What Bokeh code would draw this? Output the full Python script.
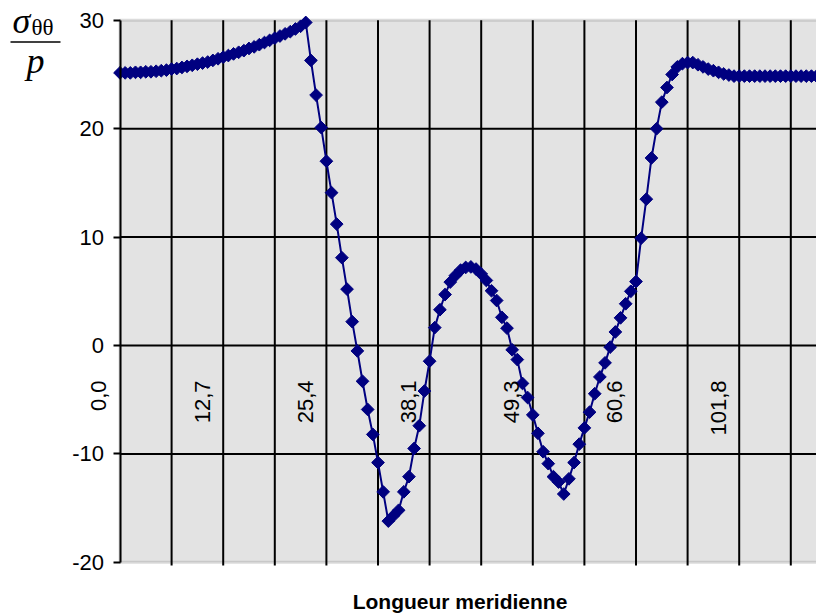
from math import pi
from bokeh.plotting import figure
from bokeh.models import (Range1d, FixedTicker, LinearAxis, Label,
                          BoxAnnotation, Grid)
from bokeh.embed import file_html
from bokeh.resources import INLINE

# ---------------- data ----------------
# sigma_theta_theta / p at each point along the meridian (category index = position in list)
sigma_over_p = [
    25.15, 25.15, 25.15, 25.2, 25.2, 25.25, 25.25, 25.3, 25.35, 25.4,
    25.5, 25.55, 25.65, 25.75, 25.85, 25.95, 26.05, 26.15, 26.3, 26.45,
    26.6, 26.75, 26.9, 27.05, 27.2, 27.4, 27.55, 27.75, 27.95, 28.15,
    28.35, 28.55, 28.75, 28.95, 29.2, 29.45, 29.8, 26.3, 23.1, 20.1,
    17.0, 14.1, 11.2, 8.1, 5.2, 2.2, -0.5, -3.3, -5.9, -8.2,
    -10.8, -13.5, -16.2, -15.7, -15.2, -13.5, -12.1, -9.5, -7.4, -4.2,
    -1.45, 1.65, 3.3, 4.7, 5.85, 6.45, 6.95, 7.2, 7.25, 7.05,
    6.6, 6.0, 5.05, 4.15, 2.6, 1.6, -0.4, -1.3, -3.5, -4.8,
    -6.4, -8.1, -9.8, -10.9, -12.1, -12.6, -13.7, -12.3, -10.8, -9.1,
    -7.6, -6.15, -4.45, -2.9, -1.6, -0.15, 1.25, 2.55, 3.85, 5.0,
    5.9, 9.9, 13.5, 17.3, 20.0, 22.45, 23.8, 25.0, 25.7, 26.0,
    26.1, 26.1, 25.9, 25.7, 25.5, 25.35, 25.2, 25.05, 24.95, 24.85,
    24.85, 24.85, 24.85, 24.85, 24.85, 24.85, 24.85, 24.85, 24.85, 24.85,
    24.85, 24.85, 24.85, 24.85, 24.85, 24.85,
]
point_index = list(range(len(sigma_over_p)))

x_tick_labels = ["0,0", "12,7", "25,4", "38,1", "49,3", "60,6", "101,8"]
x_tick_index = [0, 20, 40, 60, 80, 100, 120]
x_grid_index = [10, 20, 30, 40, 50, 60, 70, 80, 90, 100, 110, 120, 130]
y_ticks = [-20, -10, 0, 10, 20, 30]
y_tick_labels = ["-20", "-10", "0", "10", "20", "30"]
y_grid = [-10, 0, 10, 20]
y_min, y_max = -20, 30

# ---------------- geometry (page pixels) ----------------
W, H = 816, 615
X0_PAGE = 119.5     # page x of category 0
PX_CAT = 5.16       # pixels per category
Y0_PAGE = 345.0     # page y of value 0
PX_UNIT = 10.84     # pixels per unit of sigma/p
LABEL_SHIFT = 4.07  # category labels sit ~21 px left of their category


def dx(page_x):
    return (page_x - X0_PAGE) / PX_CAT


def dy(page_y):
    return (Y0_PAGE - page_y) / PX_UNIT


def baseline_y(page_baseline, font_px):
    # compensate the renderer's placement of alphabetic baselines
    return dy(page_baseline - 0.315 * font_px)


XR0, XR1 = dx(0), dx(W)
YR0, YR1 = dy(H), dy(0)

navy = "#000080"

p = figure(width=W, height=H, output_backend="svg", toolbar_location=None,
           x_range=Range1d(XR0, XR1), y_range=Range1d(YR0, YR1),
           x_axis_location=None, y_axis_location=None,
           min_border=0, min_border_left=0, min_border_right=0,
           min_border_top=0, min_border_bottom=0,
           background_fill_color="white", border_fill_color="white",
           outline_line_color=None)
p.title.visible = False
p.center = [r for r in p.center if not isinstance(r, Grid)]
p.extra_x_ranges["labels"] = Range1d(XR0 + LABEL_SHIFT, XR1 + LABEL_SHIFT)

# plot area (grey, with grey top/bottom border)
p.add_layout(BoxAnnotation(left=0, right=XR1 + 2, bottom=y_min, top=y_max,
                           fill_color="#e3e3e3", fill_alpha=1,
                           line_color="#8c8c8c", line_width=3,
                           level="underlay"))

# grid lines (vertical ones poke a few px below the plot area)
p.segment(x0=x_grid_index, y0=y_min - 0.3, x1=x_grid_index, y1=y_max,
          line_color="black", line_width=2)
p.segment(x0=0, y0=y_grid, x1=XR1 + 2, y1=y_grid,
          line_color="black", line_width=2)

# value axis
yax = LinearAxis(fixed_location=0, bounds=(y_min, y_max),
                 ticker=FixedTicker(ticks=y_ticks),
                 major_label_overrides=dict(zip(y_ticks, y_tick_labels)))
yax.axis_line_color = "black"
yax.axis_line_width = 2
yax.major_tick_line_color = "black"
yax.major_tick_line_width = 2
yax.major_tick_out = 7
yax.major_tick_in = 0
yax.minor_tick_line_color = None
yax.major_label_text_font = "Liberation Sans"
yax.major_label_text_font_size = "22px"
yax.major_label_text_color = "black"
yax.major_label_standoff = 9
p.add_layout(yax, "left")

# category axis crossing at 0, rotated labels
xax = LinearAxis(fixed_location=0, x_range_name="labels",
                 ticker=FixedTicker(ticks=x_tick_index),
                 major_label_overrides=dict(zip(x_tick_index, x_tick_labels)),
                 major_label_orientation=pi / 2)
xax.axis_line_color = None
xax.major_tick_line_color = None
xax.minor_tick_line_color = None
xax.major_tick_out = 0
xax.major_tick_in = 0
xax.major_label_standoff = 35
xax.major_label_text_font = "Liberation Sans"
xax.major_label_text_font_size = "22px"
xax.major_label_text_color = "black"
p.add_layout(xax, "below")

# data
p.line(point_index, sigma_over_p, line_color=navy, line_width=2)
p.scatter(point_index, sigma_over_p, marker="square", size=9, angle=pi / 4,
          fill_color=navy, line_color=navy, line_width=1)

# y-axis label: sigma_theta_theta / p
p.add_layout(Label(x=dx(12), y=baseline_y(32, 36), text="σ",
                   text_font="Liberation Serif", text_font_style="italic",
                   text_font_size="36px", text_align="left",
                   text_baseline="alphabetic", text_color="black"))
p.add_layout(Label(x=dx(31), y=baseline_y(34, 23), text="θθ",
                   text_font="Liberation Serif", text_font_size="23px",
                   text_align="left", text_baseline="alphabetic",
                   text_color="black"))
p.add_layout(BoxAnnotation(left=dx(10), right=dx(60), top=dy(40.8),
                           bottom=dy(42.3), fill_color="black", fill_alpha=1,
                           line_alpha=0))
p.add_layout(Label(x=dx(26), y=baseline_y(71.5, 36), text="p",
                   text_font="Liberation Serif", text_font_style="italic",
                   text_font_size="36px", text_align="left",
                   text_baseline="alphabetic", text_color="black"))

# x title
p.add_layout(Label(x=dx(459.5), y=baseline_y(608, 21), text="Longueur meridienne",
                   text_font="Liberation Sans", text_font_style="bold",
                   text_font_size="21px", text_align="center",
                   text_baseline="alphabetic", text_color="black"))

open("out.html", "w").write(file_html(p, INLINE))
